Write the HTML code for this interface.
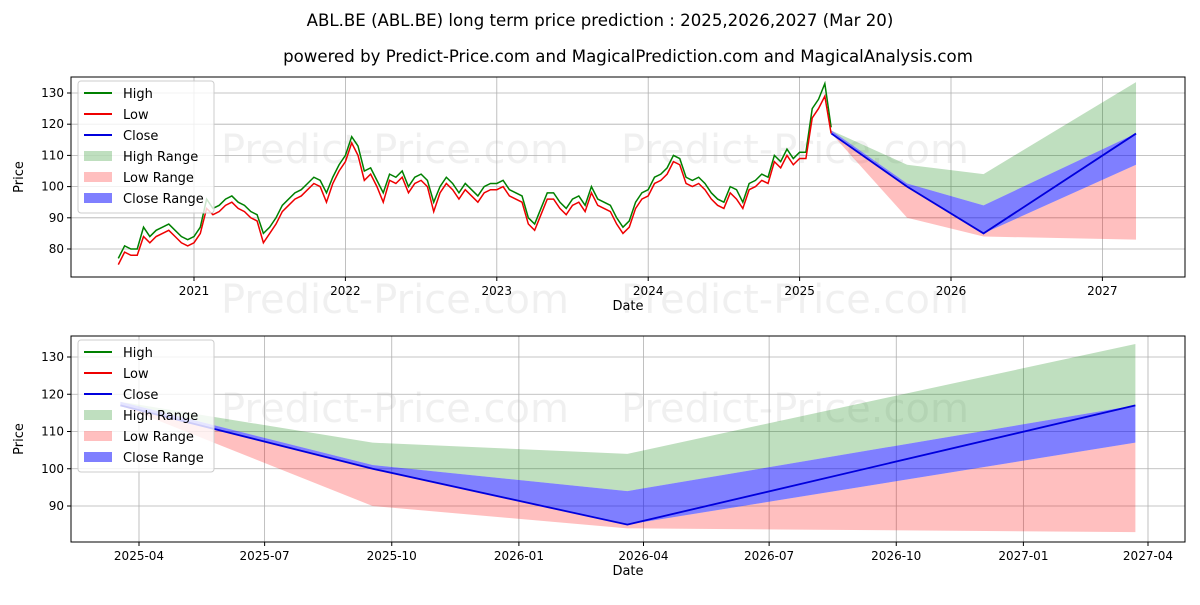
<!DOCTYPE html>
<html><head><meta charset="utf-8"><style>
body{margin:0;background:#fff;font-family:"Liberation Sans","DejaVu Sans",sans-serif}
svg text{font-family:"DejaVu Sans","Liberation Sans",sans-serif}
</style></head><body>
<svg id="c" width="1200" height="600" xmlns="http://www.w3.org/2000/svg">
<text x="600" y="26" font-size="16.6" text-anchor="middle">ABL.BE (ABL.BE) long term price prediction : 2025,2026,2027 (Mar 20)</text>
<text x="628" y="62" font-size="16.6" text-anchor="middle">powered by Predict-Price.com and MagicalPrediction.com and MagicalAnalysis.com</text>
</svg>
<script>
const histLow=[75,79,78,78,84,82,84,85,86,84,82,81,
82,85,93,91,92,94,95,93,92,90,89,82,85,88,92,94,96,97,99,101,100,95,101,105,
108,114,110,102,104,100,95,102,101,103,98,101,102,100,92,98,101,99,96,99,97,95,98,99,
99,100,97,96,95,88,86,91,96,96,93,91,94,95,92,98,94,93,92,88,85,87,93,96,
97,101,102,104,108,107,101,100,101,99,96,94,93,98,96,93,99,100,102,101,108,106,110,107,
109,109,122,125,129,117];
const histSpread=[2,2,2,2,3,2,2,2,2,2,2,2,2,2,3,2,2,2,2,2,2,2,2,3,2,2,2,2,2,2,2,2,2,3,2,2,2,2,3,3,2,2,3,2,2,2,2,2,2,2,3,2,2,2,2,2,2,2,2,2,2,2,2,2,2,2,2,2,2,2,2,2,2,2,2,2,2,2,2,2,2,2,2,2,2,2,2,2,2,2,2,2,2,2,2,2,2,2,3,2,2,2,2,2,2,2,2,2,2,2,3,3,4,2];
const histStart=2020.5, histStep=1/24;
const predDates=[2025.21,2025.71,2026.215,2027.222];
const predClose=[117,100,85,117];
const predHigh=[118,107,104,133.5];
const predLow=[117,90,84,83];
const closeUpper=[118,101,94,117];
const closeLower=[117,100,85,107];
const topXTicks=[2021,2022,2023,2024,2025,2026,2027];
const topYTicks=[80,90,100,110,120,130];
const botXTicks=["2025-04","2025-07","2025-10","2026-01","2026-04","2026-07","2026-10","2027-01","2027-04"];
const botXTickVals=[2025.247,2025.496,2025.748,2026.0,2026.247,2026.496,2026.748,2027.0,2027.247];
const botYTicks=[90,100,110,120,130];

const NS="http://www.w3.org/2000/svg",svg=document.getElementById('c');
function el(t,a,p){const e=document.createElementNS(NS,t);for(const k in a)e.setAttribute(k,a[k]);(p||svg).appendChild(e);return e;}
function panel(name,L,T,W,H,xf,yf,xt,xtl,yt,full){
 const g=el('g',{});
 ['Predict-Price.com','Predict-Price.com'].forEach((w,i)=>{const t=el('text',{x:L+150+i*400,y:T+86,'font-size':40,fill:'#000','fill-opacity':0.06},g);t.textContent=w;});
 if(full){const t=el('text',{x:L+150,y:T+236,'font-size':40,fill:'#000','fill-opacity':0.06},g);t.textContent='Predict-Price.com';const t2=el('text',{x:L+550,y:T+236,'font-size':40,fill:'#000','fill-opacity':0.06},g);t2.textContent='Predict-Price.com';}
 xt.forEach((v,i)=>{const x=xf(v);el('line',{x1:x,x2:x,y1:T,y2:T+H,stroke:'#b0b0b0','stroke-width':0.8},g);el('line',{x1:x,x2:x,y1:T+H,y2:T+H+4,stroke:'#000'},g);const t=el('text',{x:x,y:T+H+18,'font-size':12,'text-anchor':'middle'},g);t.textContent=xtl[i];});
 yt.forEach(v=>{const y=yf(v);el('line',{x1:L,x2:L+W,y1:y,y2:y,stroke:'#b0b0b0','stroke-width':0.8},g);el('line',{x1:L-4,x2:L,y1:y,y2:y,stroke:'#000'},g);const t=el('text',{x:L-7,y:y+4,'font-size':12,'text-anchor':'end'},g);t.textContent=v;});
 const xl=el('text',{x:L+W/2,y:T+H+33,'font-size':13,'text-anchor':'middle'},g);xl.textContent='Date';
 const yl=el('text',{x:0,y:0,'font-size':13,'text-anchor':'middle',transform:`translate(${L-48},${T+H/2}) rotate(-90)`},g);yl.textContent='Price';
 const cp='clip'+name;const cl=el('clipPath',{id:cp},g);el('rect',{x:L,y:T,width:W,height:H},cl);
 const d=el('g',{'clip-path':`url(#${cp})`},g);
 function band(up,lo,col,op,n){const pts=predDates.map((t,i)=>xf(t)+','+yf(up[i])).concat(predDates.map((t,i)=>xf(t)+','+yf(lo[i])).reverse());const p=el('polygon',{points:pts.join(' '),fill:col,'fill-opacity':op},d);}
 band(predHigh,closeUpper,'green',0.25,'high-range');
 band(closeLower,predLow,'red',0.25,'low-range');
 band(closeUpper,closeLower,'blue',0.5,'close-range');
 if(full){
  const hp=histLow.map((v,i)=>xf(histStart+i*histStep)+','+yf(v+histSpread[i])).join(' ');
  const lp=histLow.map((v,i)=>xf(histStart+i*histStep)+','+yf(v)).join(' ');
  const h=el('polyline',{points:hp,fill:'none',stroke:'green','stroke-width':1.5},d);
  const l=el('polyline',{points:lp,fill:'none',stroke:'#e00','stroke-width':1.5},d);
 }
 const c=el('polyline',{points:predDates.map((t,i)=>xf(t)+','+yf(predClose[i])).join(' '),fill:'none',stroke:'#0000dd','stroke-width':1.8},d);
 el('rect',{x:L,y:T,width:W,height:H,fill:'none',stroke:'#000','stroke-width':1},g);
 const lg=el('g',{},g);
 el('rect',{x:L+7,y:T+4,width:136,height:132,rx:3,fill:'#fff','fill-opacity':0.8,stroke:'#ccc'},lg);
 const items=[['High','line','green'],['Low','line','#e00'],['Close','line','#0000dd'],['High Range','patch','rgba(0,128,0,0.25)'],['Low Range','patch','rgba(255,0,0,0.25)'],['Close Range','patch','rgba(0,0,255,0.5)']];
 items.forEach((it,i)=>{const y=T+16+i*21;if(it[1]=='line')el('line',{x1:L+13,x2:L+41,y1:y,y2:y,stroke:it[2],'stroke-width':2},lg);else el('rect',{x:L+13,y:y-5,width:28,height:10,fill:it[2]},lg);const t=el('text',{x:L+52,y:y+5,'font-size':13},lg);t.textContent=it[0];});
}
panel('top-panel',71,77,1114,200,t=>194+(t-2021)*151.4,v=>249-(v-80)*3.12,topXTicks,topXTicks.map(String),topYTicks,true);
panel('bottom-panel',71,336,1114,206,t=>139+(t-2025.247)*504.5,v=>506-(v-90)*3.725,botXTickVals,botXTicks,botYTicks,false);
</script>
</body></html>
